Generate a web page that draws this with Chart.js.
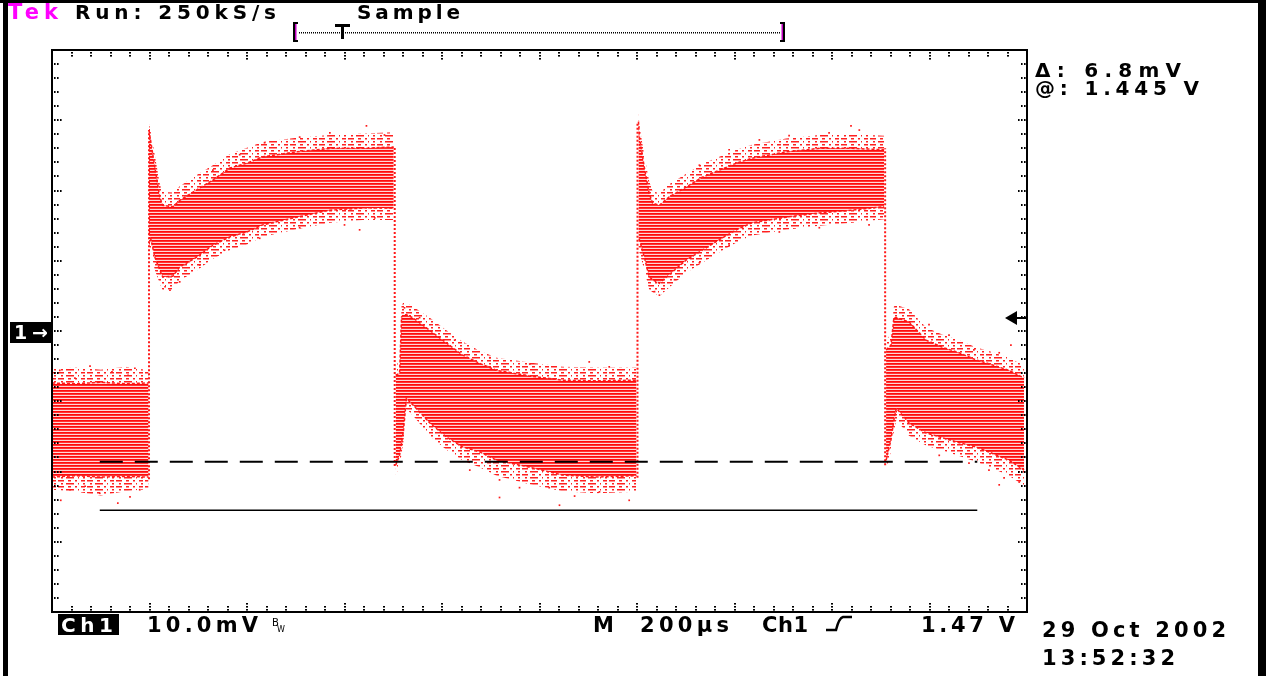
<!DOCTYPE html>
<html>
<head>
<meta charset="utf-8">
<script src="https://cdn.jsdelivr.net/npm/chart.js@4.4.1/dist/chart.umd.min.js"></script>
<style>
html,body{margin:0;padding:0;background:#fff;}
#wrap{position:relative;width:1266px;height:676px;overflow:hidden;}
canvas{display:block;}
</style>
</head>
<body>
<div id="wrap"><canvas id="c" width="1266" height="676"></canvas></div>
<script>
// ---- Data (time in µs, Ch1 in mV relative to screen centre; 10 mV/div, 200 µs/div) ----
const timesA = [0, 50, 100, 150, 198];
const upperA = [-7.4, -7.5, -7.3, -7.5, -7.4];
const lowerA = [-20.8, -20.6, -20.8, -20.7, -20.8];
const fringeUpA = [-5.4, -5.2, -5.5, -5.1, -5.6];
const fringeLoA = [-22.6, -22.9, -23.4, -22.8, -22.5];

const timesB = [199, 203, 211, 221, 227, 248, 262, 297, 330, 365, 400, 432, 502, 570, 637, 701];
const upperB = [28.6, 26.8, 23.3, 19.1, 17.9, 17.7, 18.6, 20.1, 21.5, 23.2, 23.9, 24.8, 25.5, 26.0, 26.0, 26.2];
const lowerB = [14.0, 13.0, 10.5, 8.7, 7.7, 7.8, 9.1, 10.5, 12.2, 13.4, 14.1, 15.1, 16.2, 17.2, 17.5, 17.5];
const fringeUpB = [29.5, 28.2, 25.0, 21.0, 19.8, 19.7, 20.6, 22.2, 23.6, 25.2, 26.1, 26.9, 27.5, 27.9, 28.1, 28.3];
const fringeLoB = [12.3, 11.2, 8.7, 6.8, 5.8, 5.9, 7.2, 8.6, 10.3, 11.5, 12.3, 13.4, 14.5, 15.4, 15.8, 15.8];

const timesC = [705, 713, 717, 721, 727, 740, 775, 809, 842, 877, 912, 980, 1047, 1117, 1199];
const upperC = [-6.3, -6.0, 2.0, 2.3, 2.3, 1.9, 0.1, -1.7, -3.4, -4.6, -5.6, -6.4, -7.0, -7.1, -7.0];
const lowerC = [-19.1, -17.7, -16.0, -14.2, -9.6, -10.5, -13.1, -15.1, -16.5, -17.2, -18.4, -19.4, -20.5, -20.8, -20.6];
const fringeUpC = [-4.8, -4.4, 3.6, 4.1, 4.0, 3.5, 1.9, 0.1, -1.5, -2.8, -3.8, -4.5, -5.1, -5.2, -5.2];
const fringeLoC = [-20.5, -19.2, -17.5, -15.7, -11.1, -12.0, -14.9, -16.9, -18.4, -19.4, -20.6, -21.8, -22.8, -23.1, -22.9];

const timesD = [1203, 1205, 1215, 1225, 1232, 1246, 1266, 1301, 1334, 1369, 1404, 1436, 1506, 1574, 1641, 1707];
const upperD = [29.8, 27.6, 23.3, 19.6, 18.2, 17.9, 19.1, 20.5, 21.9, 22.9, 23.9, 24.6, 25.5, 26.0, 26.0, 25.8];
const lowerD = [13.0, 13.0, 10.5, 7.7, 7.3, 6.8, 8.0, 10.1, 11.5, 13.0, 14.4, 15.4, 16.2, 16.8, 17.2, 17.7];
const fringeUpD = [31.2, 29.2, 25.0, 21.3, 19.9, 19.6, 20.9, 22.4, 23.8, 24.8, 25.8, 26.5, 27.4, 27.9, 28.0, 27.8];
const fringeLoD = [11.3, 11.2, 8.7, 5.9, 5.5, 5.0, 6.2, 8.3, 9.7, 11.2, 12.6, 13.6, 14.4, 15.0, 15.4, 15.9];

const timesE = [1711, 1721, 1727, 1732, 1758, 1793, 1826, 1861, 1895, 1928, 1963, 1994];
const upperE = [-2.7, -2.0, 1.9, 1.9, 1.3, -1.3, -2.3, -3.1, -4.1, -4.8, -5.6, -6.7];
const lowerE = [-18.4, -15.5, -12.7, -11.0, -13.1, -14.5, -15.2, -15.9, -16.5, -17.4, -18.4, -19.8];
const fringeUpE = [-1.2, -0.5, 3.5, 3.7, 3.1, 0.5, -0.5, -1.3, -2.3, -3.0, -3.8, -4.9];
const fringeLoE = [-19.8, -17.1, -14.3, -12.6, -14.9, -16.3, -17.0, -17.8, -18.6, -19.5, -20.6, -22.0];

// switching edges (dotted vertical traces)
const edgeTimes  = [199, 703, 1201, 1709];
const edgeTop    = [28.6, 26.2, 29.8, 26.0];
const edgeBottom = [-21.1, -19.2, -20.9, -19.1];

// isolated noise samples outside the dense band
const noiseT = [16, 78, 123, 170, 47, 156, 37, 98, 135, 160, 68, 180, 18,
  330, 385, 436, 508, 570, 645, 682, 221, 232, 242, 262, 303, 354, 426, 508, 600, 662, 631,
  723, 754, 826, 898, 980, 1102, 1143, 857, 918, 959, 1020, 1072, 1123, 1184, 1041, 918,
  1328, 1389, 1451, 1512, 1594, 1656, 1639, 1236, 1246, 1277, 1328, 1389, 1492, 1574, 1676,
  1799, 1840, 1891, 1943, 1967, 1820, 1881, 1922, 1953, 1984, 1943];
const noiseV = [-5.6, -5.0, -5.8, -5.3, -6.7, -6.3, -22.6, -23.1, -24.5, -23.6, -22.1, -22.6, -24.1,
  22.9, 25.1, 26.8, 27.6, 28.2, 29.2, 27.9, 20.5, 6.3, 5.8, 7.0, 9.4, 11.5, 13.2, 14.7, 15.1, 16.1, 14.4,
  3.3, 1.9, -1.3, -3.8, -4.7, -4.4, -5.1, -19.8, -21.2, -22.3, -22.3, -23.5, -22.9, -24.1, -24.8, -23.7,
  23.6, 25.8, 27.2, 27.8, 28.2, 28.6, 29.2, 5.6, 5.1, 7.3, 9.7, 12.2, 14.1, 14.7, 15.1,
  0.9, -0.6, -2.7, -3.1, -2.0, -17.7, -18.8, -19.8, -20.9, -21.5, -21.9];

// cursor / reference lines
const refStartT = 98, refEndT = 1898;
const dashedRefV = -18.6;
const solidRefV = -25.5;
const triggerLevelV = 1.85;
const groundMarkerV = 0;

// axis ranges (10 divisions x 200 µs, 8 divisions x 10 mV)
const timeMin = 0, timeMax = 2000, timeStep = 40, timeMajor = 200;
const voltMin = -40, voltMax = 40, voltStep = 2, voltMajor = 10;

// readout texts
const topTexts = ['Tek', 'Run: 250kS/s', 'Sample'];
const cursorTexts = ['\u0394: 6.8mV', '@: 1.445 V'];
const bottomTexts = ['Ch1', '10.0mV', 'M', '200\u00b5s', 'Ch1', '1.47 V'];
const dateTexts = ['29 Oct 2002', '13:52:32'];

// ---- build ----
const RED = '#ff1a1a';
const canvas = document.getElementById('c');
const ctx0 = canvas.getContext('2d');

// dense band: horizontal raster stripes
const stripe = document.createElement('canvas');
stripe.width = 8; stripe.height = 3;
const sc = stripe.getContext('2d');
sc.fillStyle = '#ffd6d6'; sc.fillRect(0, 0, 8, 3);
sc.fillStyle = '#ff0c0c'; sc.fillRect(0, 0, 8, 1);
sc.fillStyle = '#ff3434'; sc.fillRect(0, 1, 8, 1);
const bandFill = ctx0.createPattern(stripe, 'repeat');

// sparse fringe: broken raster stripes
const sparse = document.createElement('canvas');
sparse.width = 29; sparse.height = 6;
const sp = sparse.getContext('2d');
sp.fillStyle = '#ff2020';
[[0, 0, 6], [10, 0, 3], [17, 0, 2], [23, 0, 4], [3, 3, 2], [8, 3, 8], [20, 3, 1], [25, 3, 2]]
  .forEach(([x, y, w]) => sp.fillRect(x, y, w, 1.5));
const fringeFill = ctx0.createPattern(sparse, 'repeat');

const pts = (ts, vs) => ts.map((t, i) => ({x: t, y: vs[i]}));
const datasets = [];
[[timesA, upperA, lowerA, fringeUpA, fringeLoA], [timesB, upperB, lowerB, fringeUpB, fringeLoB],
 [timesC, upperC, lowerC, fringeUpC, fringeLoC], [timesD, upperD, lowerD, fringeUpD, fringeLoD],
 [timesE, upperE, lowerE, fringeUpE, fringeLoE]].forEach(([t, u, l, fu, fl]) => {
  const iu = datasets.length;
  datasets.push({data: pts(t, u), borderColor: 'rgba(255,20,20,0.95)', borderWidth: 1.5,
    borderDash: [3, 2], pointRadius: 0, fill: false, order: 5});
  datasets.push({data: pts(t, l), borderColor: 'rgba(255,20,20,0.95)', borderWidth: 1.5,
    borderDash: [3, 2], pointRadius: 0, fill: '-1', backgroundColor: bandFill, order: 5});
  datasets.push({data: pts(t, fu), borderWidth: 0, borderColor: 'rgba(0,0,0,0)', pointRadius: 0,
    fill: iu, backgroundColor: fringeFill, order: 6});
  datasets.push({data: pts(t, fl), borderWidth: 0, borderColor: 'rgba(0,0,0,0)', pointRadius: 0,
    fill: iu + 1, backgroundColor: fringeFill, order: 6});
});
edgeTimes.forEach((t, i) => {
  datasets.push({data: [{x: t, y: edgeBottom[i]}, {x: t, y: edgeTop[i]}], borderColor: RED,
    borderWidth: 2, borderDash: [2, 2], pointRadius: 0, fill: false, order: 4});
});
datasets.push({data: pts(noiseT, noiseV), showLine: false, pointStyle: 'rect', pointRadius: 1.2,
  pointBackgroundColor: RED, pointBorderWidth: 0, order: 3});
datasets.push({data: [{x: refStartT, y: dashedRefV}, {x: refEndT, y: dashedRefV}], borderColor: '#000',
  borderWidth: 2, borderDash: [23, 12], pointRadius: 0, fill: false, order: 0});
datasets.push({data: [{x: refStartT, y: solidRefV}, {x: refEndT, y: solidRefV}], borderColor: '#000',
  borderWidth: 1.5, pointRadius: 0, fill: false, order: 0});

function fitText(ctx, s, x0, x1, base, size, color, weight) {
  ctx.font = (weight || 'bold') + ' ' + size + 'px "DejaVu Sans"';
  ctx.letterSpacing = '0px';
  const w = ctx.measureText(s).width;
  const n = [...s].length;
  const ls = n > 1 ? (x1 - x0 - w) / (n - 1) : 0;
  ctx.letterSpacing = ls.toFixed(2) + 'px';
  ctx.fillStyle = color;
  ctx.textBaseline = 'alphabetic';
  ctx.textAlign = 'left';
  ctx.fillText(s, x0, base);
  ctx.letterSpacing = '0px';
}

const scopePlugin = {
  id: 'scope',
  afterDraw(chart) {
    const ctx = chart.ctx, a = chart.chartArea, xs = chart.scales.x, ys = chart.scales.y;
    ctx.save();
    // graticule edge ticks
    ctx.fillStyle = '#000';
    for (let t = timeMin; t <= timeMax; t += timeStep) {
      const px = Math.round(xs.getPixelForValue(t));
      const n = (t % timeMajor === 0) ? 3 : 2;
      for (let k = 1; k <= n; k++) {
        ctx.fillRect(px - 1, a.top + k * 3 - 1, 2, 1.6);
        ctx.fillRect(px - 1, a.bottom - k * 3, 2, 1.6);
      }
    }
    for (let v = voltMin; v <= voltMax; v += voltStep) {
      const py = Math.round(ys.getPixelForValue(v));
      const n = (Math.abs(v) % voltMajor === 0) ? 3 : 2;
      for (let k = 1; k <= n; k++) {
        ctx.fillRect(a.left + k * 3 - 1, py - 1, 1.6, 2);
        ctx.fillRect(a.right - k * 3, py - 1, 1.6, 2);
      }
    }
    // frame
    ctx.strokeStyle = '#000'; ctx.lineWidth = 2;
    ctx.strokeRect(a.left, a.top, a.right - a.left, a.bottom - a.top);

    // screen border bars
    ctx.fillStyle = '#000';
    ctx.fillRect(0, 0, 1266, 3);
    ctx.fillRect(3, 0, 5, 676);
    ctx.fillRect(1258, 0, 8, 676);

    // channel ground marker "1→"
    const gy = ys.getPixelForValue(groundMarkerV);
    ctx.fillStyle = '#000';
    ctx.fillRect(10, gy - 9, 41, 21);
    fitText(ctx, '1\u2192', 14, 48, gy + 8, 19, '#fff', 'bold');

    // trigger level arrow (right edge)
    const ty = ys.getPixelForValue(triggerLevelV);
    ctx.fillStyle = '#000';
    ctx.beginPath();
    ctx.moveTo(1005, ty); ctx.lineTo(1017, ty - 7); ctx.lineTo(1017, ty + 7); ctx.closePath();
    ctx.fill();
    ctx.fillRect(1016, ty - 1, 10, 2);

    // top readout
    fitText(ctx, topTexts[0], 8, 58, 19, 21, '#ff00ff');
    fitText(ctx, topTexts[1], 75, 276, 19, 20, '#000');
    fitText(ctx, topTexts[2], 357, 460, 19, 20, '#000');

    // record-position bracket
    ctx.fillStyle = '#000';
    ctx.fillRect(293, 22, 2, 20); ctx.fillRect(293, 22, 5, 2); ctx.fillRect(293, 40, 5, 2);
    ctx.fillStyle = '#c000c0'; ctx.fillRect(295, 24, 1.5, 16);
    ctx.fillStyle = '#000';
    ctx.fillRect(783, 22, 2, 20); ctx.fillRect(780, 22, 5, 2); ctx.fillRect(780, 40, 5, 2);
    ctx.fillStyle = '#c000c0'; ctx.fillRect(781.5, 24, 1.5, 16);
    ctx.fillStyle = '#000';
    for (let xx = 299; xx < 780; xx += 2) ctx.fillRect(xx, 32, 1, 1.5);
    ctx.fillRect(335, 24, 15, 3); ctx.fillRect(341, 24, 3, 15);

    // cursor readout
    fitText(ctx, cursorTexts[0], 1035, 1181, 77, 20, '#000');
    fitText(ctx, cursorTexts[1], 1035, 1199, 95, 20, '#000');

    // bottom readout
    ctx.fillStyle = '#000';
    ctx.fillRect(58, 614, 61, 21);
    fitText(ctx, bottomTexts[0], 61, 113, 632, 20, '#fff');
    fitText(ctx, bottomTexts[1], 147, 258, 632, 21, '#000');
    fitText(ctx, 'B', 272, 279, 626, 10, '#000', 'normal');
    fitText(ctx, 'W', 277, 285, 632, 8, '#000', 'normal');
    fitText(ctx, bottomTexts[2], 593, 613, 632, 21, '#000');
    fitText(ctx, bottomTexts[3], 640, 729, 632, 21, '#000');
    fitText(ctx, bottomTexts[4], 762, 808, 632, 21, '#000');
    ctx.strokeStyle = '#000'; ctx.lineWidth = 2.5;
    ctx.beginPath();
    ctx.moveTo(826, 630); ctx.lineTo(836, 630);
    ctx.quadraticCurveTo(839, 618, 843, 617); ctx.lineTo(852, 617);
    ctx.stroke();
    fitText(ctx, bottomTexts[5], 921, 1015, 632, 21, '#000');
    fitText(ctx, dateTexts[0], 1042, 1226, 637, 21, '#000');
    fitText(ctx, dateTexts[1], 1042, 1175, 665, 21, '#000');
    ctx.restore();
  }
};

new Chart(canvas, {
  type: 'line',
  data: {datasets},
  options: {
    responsive: false,
    animation: false,
    devicePixelRatio: 1,
    layout: {padding: {left: 52, top: 50, right: 239, bottom: 64}},
    plugins: {legend: {display: false}, tooltip: {enabled: false}, title: {display: false}},
    elements: {line: {tension: 0}},
    scales: {
      x: {type: 'linear', min: timeMin, max: timeMax, display: false},
      y: {type: 'linear', min: voltMin, max: voltMax, display: false}
    }
  },
  plugins: [scopePlugin]
});
</script>
</body>
</html>
